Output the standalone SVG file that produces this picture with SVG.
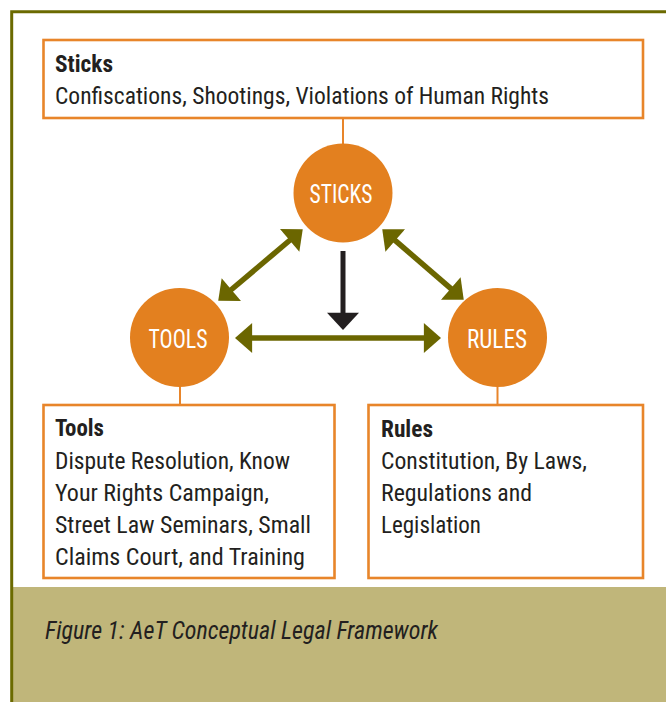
<svg xmlns="http://www.w3.org/2000/svg" width="666" height="702" viewBox="0 0 666 702">
<style>
.box{fill:#fff;stroke:#e8852a;stroke-width:2.6}
.link{stroke:#e8852a;stroke-width:2}
.circ{fill:#e3801f}
.t{font-family:"Liberation Sans Narrow","Roboto Condensed","DejaVu Sans Condensed","Liberation Sans",sans-serif;font-size:23px;fill:#231f20}
.b{font-weight:bold}
.cl{font-family:"Liberation Sans Narrow","Roboto Condensed","DejaVu Sans Condensed","Liberation Sans",sans-serif;font-size:25px;fill:#fff;text-anchor:middle}
.cap{font-family:"Liberation Sans Narrow","Roboto Condensed","DejaVu Sans Condensed","Liberation Sans",sans-serif;font-size:25px;font-style:italic;fill:#231f20}
.olive{stroke:#6b6600;stroke-width:5.5;fill:none}
.blk{stroke:#231f20;stroke-width:5;fill:none}
</style>
<defs>
<marker id="ho" markerUnits="userSpaceOnUse" markerWidth="18" markerHeight="30" viewBox="0 0 16 28" refX="2" refY="14" orient="auto-start-reverse">
<path d="M0,0 L16,14 L0,28 z" fill="#6b6600"/>
</marker>
<marker id="hb" markerUnits="userSpaceOnUse" markerWidth="18" markerHeight="32" viewBox="0 0 16 30" refX="2" refY="15" orient="auto">
<path d="M0,0 L16,15 L0,30 z" fill="#231f20"/>
</marker>
</defs>
<rect x="0" y="0" width="666" height="702" fill="#fff"/>
<g id="frame">
<rect x="13" y="587" width="653" height="115" fill="#c0b67a"/>
<path d="M11.7,702 V11.7 H666" fill="none" stroke="#6b6a00" stroke-width="3"/>
</g>
<g id="connectors">
<line class="link" x1="343" y1="118" x2="343" y2="145"/>
<line class="link" x1="180" y1="386" x2="180" y2="405"/>
<line class="link" x1="497.5" y1="386" x2="497.5" y2="405"/>
<line class="olive" x1="229.7" y1="291" x2="291.3" y2="239" marker-start="url(#ho)" marker-end="url(#ho)"/>
<line class="olive" x1="393.6" y1="239.1" x2="452.4" y2="289.9" marker-start="url(#ho)" marker-end="url(#ho)"/>
<line class="olive" x1="250" y1="338" x2="426" y2="338" marker-start="url(#ho)" marker-end="url(#ho)"/>
<line class="blk" x1="343" y1="251" x2="343" y2="315" marker-end="url(#hb)"/>
</g>
<g id="sticks-box">
<rect class="box" x="43.5" y="40" width="599.5" height="78"/>
<text class="t b" x="55" y="72" textLength="58" lengthAdjust="spacingAndGlyphs">Sticks</text>
<text class="t" x="55" y="104" textLength="494" lengthAdjust="spacingAndGlyphs">Confiscations, Shootings, Violations of Human Rights</text>
</g>
<g id="sticks">
<circle class="circ" cx="343" cy="193" r="49.5"/>
<text class="cl" x="341" y="203" textLength="63" lengthAdjust="spacingAndGlyphs">STICKS</text>
</g>
<g id="tools">
<circle class="circ" cx="179.5" cy="337.5" r="49.5"/>
<text class="cl" x="178" y="348" textLength="59" lengthAdjust="spacingAndGlyphs">TOOLS</text>
</g>
<g id="rules">
<circle class="circ" cx="497.5" cy="337.5" r="49.5"/>
<text class="cl" x="497" y="348" textLength="60" lengthAdjust="spacingAndGlyphs">RULES</text>
</g>
<g id="tools-box">
<rect class="box" x="43.5" y="405" width="291" height="173"/>
<text class="t b" x="55" y="436" textLength="49" lengthAdjust="spacingAndGlyphs">Tools</text>
<text class="t" x="55" y="469" textLength="235" lengthAdjust="spacingAndGlyphs">Dispute Resolution, Know</text>
<text class="t" x="55" y="501" textLength="214" lengthAdjust="spacingAndGlyphs">Your Rights Campaign,</text>
<text class="t" x="55" y="533" textLength="256" lengthAdjust="spacingAndGlyphs">Street Law Seminars, Small</text>
<text class="t" x="55" y="565" textLength="250" lengthAdjust="spacingAndGlyphs">Claims Court, and Training</text>
</g>
<g id="rules-box">
<rect class="box" x="368.5" y="405" width="274.5" height="173"/>
<text class="t b" x="381" y="437" textLength="52" lengthAdjust="spacingAndGlyphs">Rules</text>
<text class="t" x="381" y="469" textLength="206" lengthAdjust="spacingAndGlyphs">Constitution, By Laws,</text>
<text class="t" x="381" y="501" textLength="151" lengthAdjust="spacingAndGlyphs">Regulations and</text>
<text class="t" x="381" y="533" textLength="100" lengthAdjust="spacingAndGlyphs">Legislation</text>
</g>
<g id="caption">
<text class="cap" x="45" y="639" textLength="393" lengthAdjust="spacingAndGlyphs">Figure 1: AeT Conceptual Legal Framework</text>
</g>
</svg>
